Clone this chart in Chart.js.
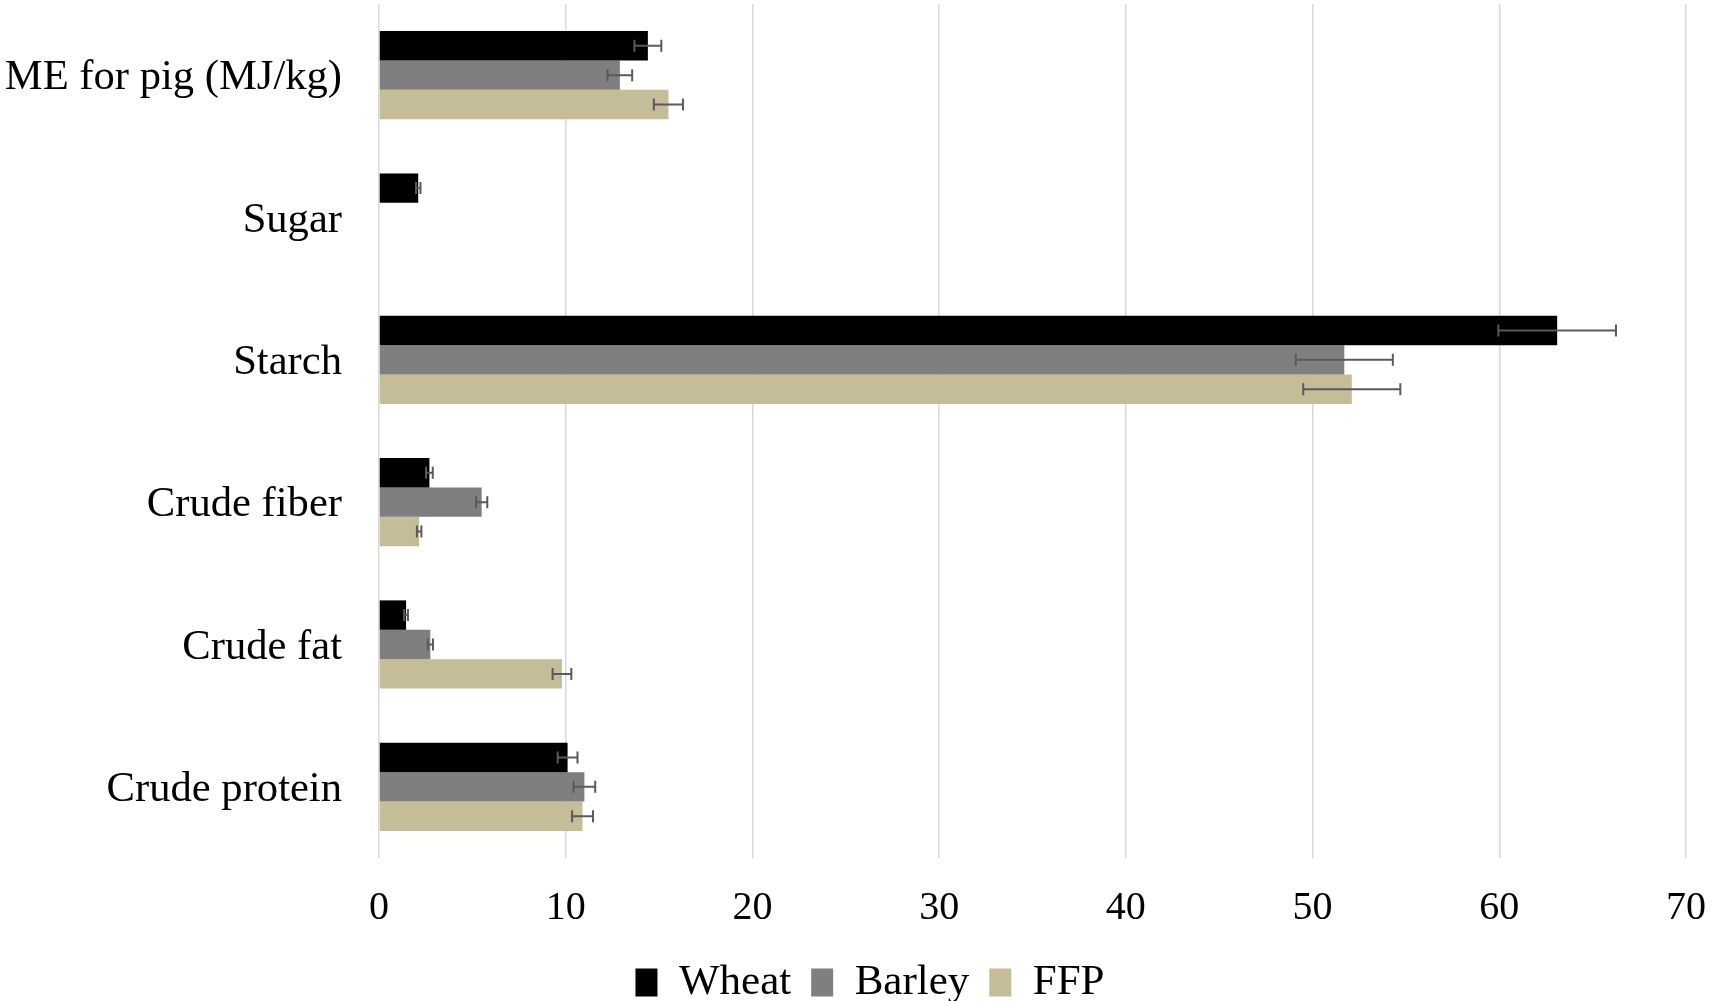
<!DOCTYPE html>
<html>
<head>
<meta charset="utf-8">
<script src="https://cdn.jsdelivr.net/npm/chart.js@4.4.1/dist/chart.umd.min.js"></script>
<style>
  html, body { margin: 0; padding: 0; background: #ffffff; }
  #wrap { width: 1716px; height: 1001px; }
</style>
</head>
<body>
<div id="wrap"><canvas id="chart" width="1716" height="1001"></canvas></div>
<script>
// Nutrient categories (top to bottom)
const categories = ['ME for pig (MJ/kg)', 'Sugar', 'Starch', 'Crude fiber', 'Crude fat', 'Crude protein'];

// Mean values per feedstuff
const wheat  = [14.4, 2.1, 63.1, 2.7, 1.45, 10.1];
const barley = [12.9, 0, 51.7, 5.5, 2.75, 11.0];
const ffp    = [15.5, 0, 52.1, 2.15, 9.8, 10.9];

// Standard deviations (error bars)
const wheatErr  = [0.72, 0.12, 3.15, 0.18, 0.1, 0.53];
const barleyErr = [0.66, 0, 2.6, 0.3, 0.14, 0.58];
const ffpErr    = [0.78, 0, 2.6, 0.12, 0.5, 0.56];

const xTicks = [0, 10, 20, 30, 40, 50, 60, 70];

const serif = "'Liberation Serif', 'Times New Roman', serif";

// Draws horizontal error bars with end caps for each bar
const errorBars = {
  id: 'errorBars',
  afterDatasetsDraw(chart) {
    const ctx = chart.ctx;
    const xs = chart.scales.x;
    ctx.save();
    ctx.strokeStyle = '#5a5a5a';
    ctx.lineWidth = 2;
    chart.data.datasets.forEach((ds, di) => {
      const meta = chart.getDatasetMeta(di);
      if (meta.hidden) return;
      meta.data.forEach((bar, i) => {
        const err = ds.errors[i];
        if (!err) return;
        const v = ds.data[i];
        const x1 = xs.getPixelForValue(v - err);
        const x2 = xs.getPixelForValue(v + err);
        const y = bar.y;
        const cap = 6;
        ctx.beginPath();
        ctx.moveTo(x1, y); ctx.lineTo(x2, y);
        ctx.moveTo(x1, y - cap); ctx.lineTo(x1, y + cap);
        ctx.moveTo(x2, y - cap); ctx.lineTo(x2, y + cap);
        ctx.stroke();
      });
    });
    ctx.restore();
  }
};

// Nudges the bottom legend a little to the right of the canvas centre
const legendShift = {
  id: 'legendShift',
  afterLayout(chart) {
    const lg = chart.legend;
    if (!lg) return;
    lg.left += 12;
    lg.right += 12;
  }
};

new Chart(document.getElementById('chart'), {
  type: 'bar',
  data: {
    labels: categories,
    datasets: [
      { label: 'Wheat',  data: wheat,  errors: wheatErr,  backgroundColor: '#000000' },
      { label: 'Barley', data: barley, errors: barleyErr, backgroundColor: '#7f7f7f' },
      { label: 'FFP',    data: ffp,    errors: ffpErr,    backgroundColor: '#c4bd97' }
    ]
  },
  options: {
    indexAxis: 'y',
    responsive: false,
    animation: false,
    layout: { padding: { top: 4, right: 0, bottom: -13, left: 0 } },
    datasets: {
      bar: { categoryPercentage: 0.62, barPercentage: 1.0 }
    },
    scales: {
      x: {
        min: 0,
        max: 70,
        afterBuildTicks(scale) { scale.ticks = xTicks.map(v => ({ value: v })); },
        afterFit(scale) {
          scale.height = 83;
          scale.paddingLeft = 0;
          scale.paddingRight = 30;
        },
        grid: { color: '#d9d9d9', lineWidth: 1.5, drawTicks: false },
        border: { display: false },
        ticks: {
          color: '#000000',
          padding: 26,
          font: { family: serif, size: 40 }
        }
      },
      y: {
        afterFit(scale) {
          scale.width = 379;
          scale.paddingTop = 0;
          scale.paddingBottom = 0;
        },
        grid: { display: false, drawTicks: false },
        border: { display: false },
        ticks: {
          color: '#000000',
          padding: 37,
          labelOffset: 3,
          font: { family: serif, size: 42.6 }
        }
      }
    },
    plugins: {
      legend: {
        position: 'bottom',
        labels: {
          color: '#000000',
          boxWidth: 22,
          boxHeight: 28,
          padding: 20,
          font: { family: serif, size: 43 }
        }
      },
      tooltip: { enabled: false }
    }
  },
  plugins: [errorBars, legendShift]
});
</script>
</body>
</html>
